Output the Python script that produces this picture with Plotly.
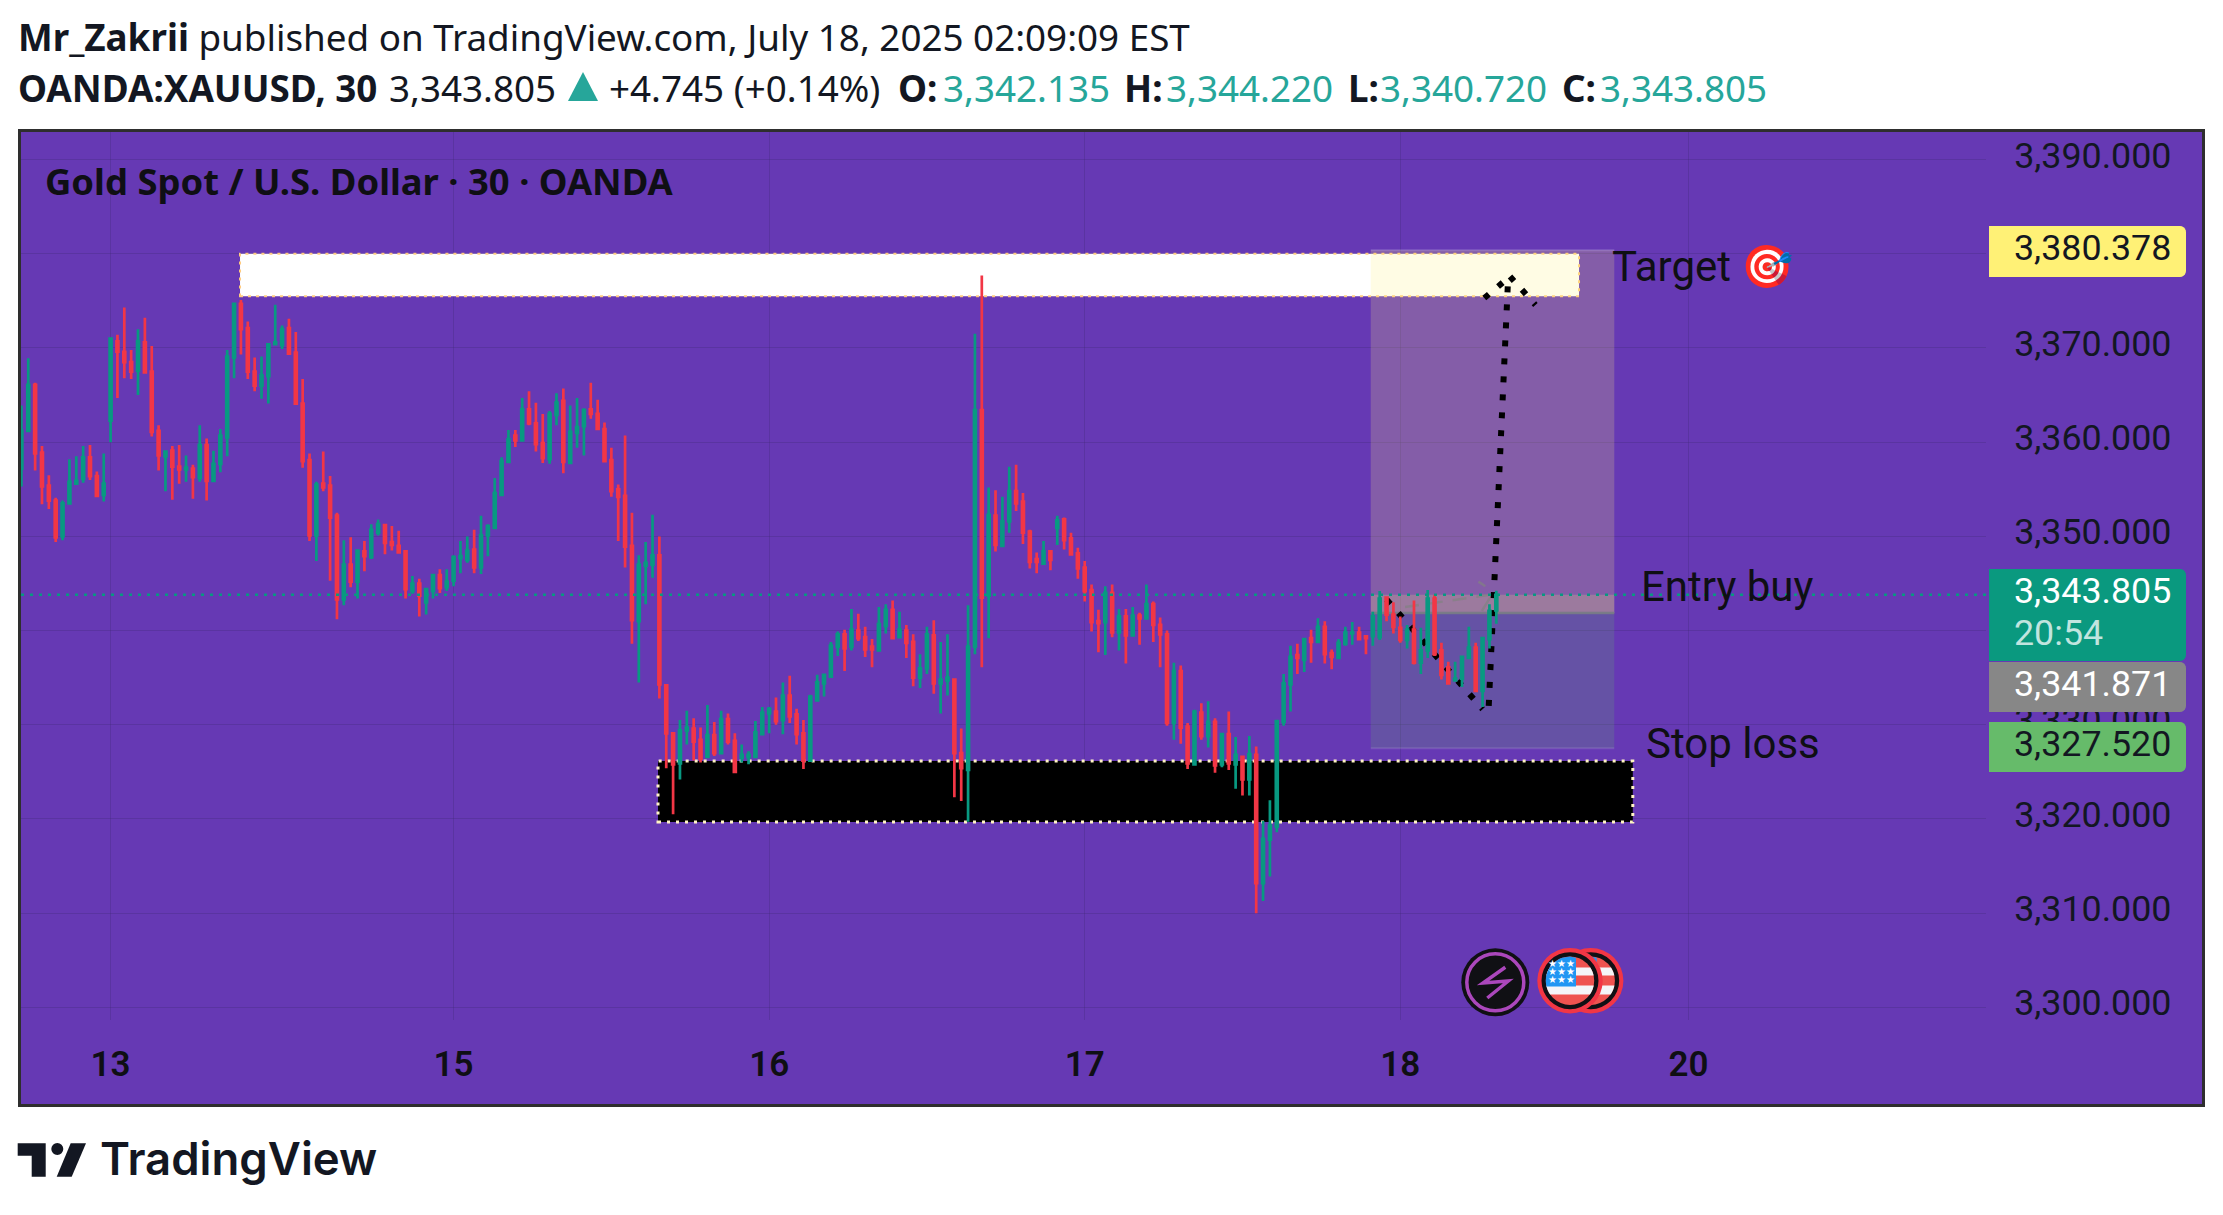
import numpy as np
import plotly.graph_objects as go

W, H = 2223, 1215

opens = [3357.2,3361.2,3366.1,3358.9,3355.4,3353.8,3350.0,3353.5,3355.6,3356.1,3358.4,3356.4,3354.4,3362.3,3370.7,3369.6,3368.5,3367.6,3370.6,3367.5,
3361.2,3358.5,3359.1,3357.4,3357.1,3357.2,3356.2,3359.7,3355.9,3357.7,3360.5,3369.0,3374.7,3372.1,3367.5,3366.0,3367.0,3370.4,3370.3,3372.1,
3369.5,3364.1,3358.1,3350.1,3355.6,3355.4,3352.2,3343.3,3347.0,3345.2,3348.4,3347.8,3350.4,3351.2,3349.4,3349.0,3348.4,3344.2,3345.0,3343.0,
3344.2,3345.9,3344.6,3345.3,3347.7,3347.5,3348.6,3346.7,3350.1,3350.9,3354.4,3357.9,3360.7,3360.2,3363.5,3362.0,3359.9,3358.2,3362.9,3364.4,
3357.8,3361.0,3361.7,3363.5,3363.0,3361.4,3358.1,3355.0,3354.3,3349.0,3341.0,3346.9,3347.0,
3348.0,3334.2,3329.1,3325.9,3329.4,3329.6,3328.4,3326.6,3328.9,3327.0,3330.6,3328.3,3326.5,3326.6,3326.6,3329.0,3331.2,3331.4,3330.5,3333.1,3331.1,3329.1,
3326.2,3332.6,3334.4,3335.1,3338.3,3339.6,3338.3,3340.0,3339.3,3338.3,3337.9,3340.5,3342.2,3339.3,3340.0,3338.8,3335.0,3336.0,3339.5,3334.4,3334.7,
3334.8,3327.0,3325.2,3338.3,3363.4,3343.7,3352.2,3349.0,3351.6,3354.8,3353.7,3350.5,3347.6,3347.1,3348.4,3350.9,3351.8,3349.8,3348.2,3346.7,3344.3,
3341.0,3340.9,3344.0,3339.8,3341.5,3339.5,3341.6,3341.3,3342.8,3340.6,3339.6,3330.2,3335.7,3329.8,3325.8,3331.3,3328.8,3330.3,3325.8,3329.0,3325.8,
3326.6,3324.2,3326.8,3313.2,3317.8,3319.2,3330.3,3334.3,3337.4,3336.9,3339.2,3338.8,3340.4,3337.6,3337.1,3338.6,
3339.7,3339.8,3339.4,3339.4,3339.3,3343.5,3341.7,3340.3,3339.0,3340.1,3336.6,3337.9,3343.4,3337.9,3336.1,3334.7,3334.9,3337.1,3338.2,3333.6,3339.1,3342.135]
highs = [3363.9,3368.9,3366.3,3359.6,3356.5,3354.1,3353.8,3358.2,3358.5,3359.6,3359.7,3356.9,3358.8,3371.0,3371.4,3374.3,3369.8,3372.0,3373.2,3370.2,
3361.8,3359.1,3359.6,3359.7,3358.6,3357.6,3361.8,3360.4,3359.1,3361.4,3369.8,3374.7,3375.1,3372.8,3369.0,3369.1,3370.4,3374.6,3372.4,3373.1,
3371.7,3366.7,3358.8,3355.8,3359.0,3356.4,3352.5,3349.6,3349.9,3348.6,3349.5,3351.3,3351.8,3351.3,3351.1,3350.6,3348.5,3345.8,3345.5,3344.4,
3346.0,3346.5,3346.5,3348.0,3349.5,3350.0,3350.7,3352.2,3351.3,3356.2,3358.4,3361.3,3361.3,3364.7,3365.4,3364.2,3363.0,3363.3,3365.2,3365.7,
3363.9,3364.7,3363.6,3366.3,3364.5,3362.1,3359.4,3355.5,3360.7,3352.5,3348.0,3349.4,3352.3,
3350.0,3334.2,3329.2,3330.5,3331.5,3330.7,3329.7,3332.1,3330.3,3331.5,3331.2,3329.1,3327.9,3327.2,3330.4,3331.9,3331.9,3332.9,3334.5,3335.2,3331.7,3330.5,
3333.2,3335.3,3335.3,3338.8,3339.9,3340.1,3342.3,3341.8,3340.4,3339.1,3342.5,3342.8,3343.2,3342.0,3340.6,3339.6,3337.5,3340.4,3341.1,3338.8,3339.6,
3334.9,3329.6,3342.7,3371.5,3377.7,3355.2,3354.9,3354.2,3357.4,3357.6,3354.6,3350.7,3348.3,3349.5,3348.5,3352.2,3352.0,3350.4,3348.8,3347.4,3344.9,
3342.2,3344.7,3344.9,3342.3,3342.3,3342.5,3341.9,3344.9,3343.1,3341.4,3340.0,3336.6,3336.3,3330.2,3331.6,3332.3,3332.5,3330.7,3329.0,3331.4,3328.7,
3326.6,3328.8,3327.7,3319.8,3322.0,3330.5,3335.4,3338.4,3338.6,3339.2,3340.1,3341.3,3341.0,3338.0,3339.1,3340.4,
3340.9,3340.4,3339.5,3342.0,3344.2,3343.6,3343.0,3341.5,3340.6,3343.2,3340.3,3344.3,3343.8,3338.7,3336.7,3336.7,3337.2,3340.4,3338.7,3339.2,3342.8,3344.22]
lows = [3355.3,3361.2,3357.0,3353.4,3352.9,3349.4,3349.6,3353.5,3355.5,3355.7,3356.0,3354.3,3353.7,3360.0,3364.7,3366.8,3366.7,3365.0,3367.3,3360.6,
3357.0,3354.8,3353.9,3355.6,3355.8,3354.0,3355.8,3353.8,3355.9,3356.8,3358.5,3366.8,3369.3,3366.7,3365.4,3364.6,3364.1,3370.3,3369.9,3369.3,
3364.0,3357.3,3349.5,3347.4,3354.8,3345.3,3341.2,3342.7,3344.6,3343.4,3346.3,3347.6,3350.1,3348.1,3348.5,3348.2,3343.4,3343.9,3341.5,3341.7,
3343.4,3344.0,3344.2,3344.7,3346.1,3347.2,3346.1,3346.0,3347.9,3350.9,3354.4,3357.8,3359.5,3360.2,3361.8,3359.0,3357.8,3357.7,3361.8,3356.7,
3357.8,3359.4,3358.6,3362.5,3361.3,3358.0,3354.2,3349.5,3346.7,3338.6,3334.5,3342.8,3345.6,
3332.8,3325.4,3320.5,3324.2,3327.9,3326.2,3326.0,3326.6,3326.7,3327.0,3327.9,3325.0,3326.0,3325.8,3326.6,3328.9,3329.1,3330.0,3329.0,3330.2,3327.9,3325.3,
3326.1,3332.6,3333.0,3335.1,3337.3,3335.7,3337.9,3338.9,3337.2,3336.1,3337.9,3339.7,3339.1,3339.3,3337.1,3334.1,3333.9,3335.4,3333.3,3331.2,3333.1,
3322.3,3321.9,3319.7,3337.5,3336.1,3339.2,3348.4,3348.9,3350.4,3352.7,3349.2,3346.6,3346.1,3347.1,3346.4,3349.1,3348.6,3348.0,3345.5,3343.1,3339.9,
3337.7,3337.4,3339.3,3337.9,3336.5,3339.5,3338.5,3341.3,3338.8,3336.1,3329.9,3328.4,3328.0,3325.3,3325.8,3328.4,3327.6,3324.9,3325.5,3325.2,3323.2,
3322.5,3322.5,3310.0,3311.3,3313.9,3318.6,3329.9,3331.4,3335.4,3335.6,3336.6,3338.8,3336.5,3335.9,3337.1,3338.4,
3338.5,3339.1,3337.5,3338.4,3339.0,3341.0,3339.7,3338.7,3338.1,3336.4,3335.4,3337.1,3337.3,3334.8,3334.4,3334.6,3334.0,3337.1,3333.6,3331.9,3338.1,3340.72]
closes = [3361.2,3366.1,3358.8,3355.3,3353.8,3349.9,3353.5,3355.8,3355.9,3358.4,3356.4,3354.3,3355.6,3371.0,3369.6,3368.5,3367.5,3370.7,3367.4,3361.1,
3358.6,3359.0,3357.4,3357.1,3357.3,3356.3,3359.7,3355.9,3357.7,3360.7,3369.1,3374.7,3372.0,3367.5,3366.0,3367.1,3370.4,3370.6,3372.0,3369.4,
3364.1,3358.0,3350.1,3355.5,3355.2,3352.0,3343.3,3347.0,3345.2,3348.5,3347.9,3350.7,3351.3,3349.3,3349.1,3348.3,3344.4,3345.0,3343.7,3344.4,
3345.9,3344.5,3345.2,3347.8,3347.9,3348.5,3346.7,3350.1,3351.1,3354.6,3358.0,3360.3,3360.2,3363.5,3362.0,3359.8,3358.3,3363.0,3364.2,3357.9,
3361.1,3361.6,3363.4,3363.0,3361.4,3358.0,3354.8,3354.2,3348.9,3341.1,3347.0,3347.2,3348.0,
3334.3,3329.1,3325.8,3329.4,3329.7,3328.2,3326.4,3328.9,3327.0,3330.6,3328.2,3325.0,3326.8,3326.8,3329.2,3331.3,3331.7,3330.4,3333.1,3330.9,3329.0,3326.2,
3333.0,3334.5,3335.3,3338.4,3339.6,3338.1,3340.1,3339.2,3338.0,3338.0,3340.7,3342.2,3339.2,3340.1,3338.7,3335.0,3336.0,3339.6,3334.4,3334.8,3335.0,
3327.0,3325.4,3338.3,3363.4,3343.5,3352.3,3349.1,3351.6,3354.8,3353.5,3350.4,3347.3,3347.3,3348.4,3347.5,3351.7,3349.6,3348.1,3346.6,3344.2,3340.9,
3340.8,3344.0,3339.8,3341.5,3339.5,3341.6,3341.3,3342.8,3340.6,3339.6,3330.2,3335.7,3329.7,3325.9,3331.4,3328.8,3330.3,3325.7,3329.0,3325.9,3326.8,
3324.2,3326.9,3313.2,3317.9,3319.3,3330.4,3334.4,3337.2,3337.1,3339.1,3338.8,3340.4,3337.5,3337.2,3338.7,3339.8,
3339.8,3339.1,3339.2,3341.5,3343.4,3341.7,3340.4,3339.0,3340.1,3336.6,3337.9,3343.4,3337.5,3335.3,3334.4,3334.9,3337.2,3338.2,3333.6,3339.2,3342.1,3343.805]

price_ticks = [3300, 3310, 3320, 3330, 3340, 3350, 3360, 3370, 3380, 3390]
date_ticks = [13, 63, 109, 155, 201, 243]
date_labels = ["13", "15", "16", "17", "18", "20"]

last_price = 3343.805
entry_price = 3341.871
target_price = 3380.378
stop_price = 3327.52
supply_zone = (31.87, 227.06, 3375.5, 3380.0)
demand_zone = (92.8, 234.9, 3319.67, 3326.15)
position_x = (196.7, 232.2)
path_down = ([199.0, 213.0], [3343.3, 3331.66])
path_up = ([213.9, 216.7], [3332.0, 3377.0])
arrow_head = ([213.25, 217.0, 220.7], [3375.3, 3377.6, 3374.57])

BAR = 6.86
X0 = 21.4
PANE = (21, 132, 1986, 1020)
UP, DOWN = "#089981", "#f23645"
INK = "#131722"
PURPLE = "#6639b4"
TV_TEAL = "#26a69a"
Y_FIT = 1.0033


def fx(x):
    return x / W


def fy(y):
    return 1 - y * Y_FIT / H


def poly(points):
    return "M" + " L".join(f"{fx(a):.5f},{fy(b):.5f}" for a, b in points) + " Z"


def disc(cx, cy, r, fill, line=None, lw=0):
    return dict(type="circle", xref="paper", yref="paper", x0=fx(cx - r), x1=fx(cx + r),
                y0=fy(cy + r), y1=fy(cy - r), fillcolor=fill, layer="above",
                line=dict(color=line or "rgba(0,0,0,0)", width=lw))


def band(cx, cy, r, y1, y2, fill, xmin=None, xmax=None):
    ys = np.linspace(max(y1, cy - r), min(y2, cy + r), 24)
    half = np.sqrt(np.maximum(r * r - (ys - cy) ** 2, 0))
    right = cx + half
    left = cx - half
    if xmin is not None:
        left = np.maximum(left, xmin)
    if xmax is not None:
        right = np.minimum(right, xmax)
    pts = list(zip(right, ys)) + list(zip(left[::-1], ys[::-1]))
    return dict(type="path", xref="paper", yref="paper", path=poly(pts), fillcolor=fill,
                layer="above", line=dict(width=0))


def badge(x0, y0, x1, y1, fill):
    r = 6
    a = np.linspace(0, np.pi / 2, 6)
    pts = [(x0, y0)]
    pts += [(x1 - r + r * np.sin(t), y0 + r - r * np.cos(t)) for t in a]
    pts += [(x1 - r + r * np.cos(t), y1 - r + r * np.sin(t)) for t in a]
    pts += [(x0, y1)]
    return dict(type="path", xref="paper", yref="paper", path=poly(pts), fillcolor=fill,
                layer="above", line=dict(width=0))


def label(text, x, y, size, color=INK, family="Noto Sans", anchor="left", weight=None):
    font = dict(family=family, size=size, color=color)
    if weight:
        font["weight"] = weight
    return dict(text=text, x=fx(x), y=fy(y), xref="paper", yref="paper", showarrow=False,
                xanchor=anchor, yanchor="middle", font=font, borderpad=0, borderwidth=0)


def data_rect(x0, x1, y0, y1, fill, line=None):
    return dict(type="rect", xref="x", yref="y", x0=x0, x1=x1, y0=y0, y1=y1, fillcolor=fill,
                layer="between", line=line or dict(width=0))


def data_line(xs, ys, color, width, dash=None, layer="between"):
    return dict(type="line", xref="x", yref="y", x0=xs[0], x1=xs[1], y0=ys[0], y1=ys[1],
                layer=layer, line=dict(color=color, width=width, dash=dash))


def px_to_price(y):
    return 3350 - (y - 536.4) / 9.42


bars = list(range(len(closes)))
fig = go.Figure(go.Candlestick(
    x=bars, open=opens, high=highs, low=lows, close=closes, whiskerwidth=0, hoverinfo="skip",
    increasing=dict(line=dict(color=UP, width=2.7), fillcolor=UP),
    decreasing=dict(line=dict(color=DOWN, width=2.7), fillcolor=DOWN),
))
# carries the price labels, which sit a little above their grid lines
fig.add_trace(go.Scatter(x=[bars[0]], y=[last_price], yaxis="y2", mode="none", hoverinfo="skip", showlegend=False))

DOTS = "6px,12px"
x_a, x_b = position_x
shapes = [
    dict(type="rect", xref="paper", yref="paper", x0=fx(18), x1=fx(2205), y0=fy(1107), y1=fy(129),
         fillcolor=PURPLE, layer="below", line=dict(width=0)),
    data_rect(supply_zone[0], supply_zone[1], supply_zone[2], supply_zone[3], "#ffffff",
              dict(color="#ffcc80", width=2, dash="3px,5px")),
    data_rect(demand_zone[0], demand_zone[1], demand_zone[2], demand_zone[3], "#000000",
              dict(color="#fff3c4", width=3, dash="3px,6px")),
    data_rect(x_a, x_b, entry_price, target_price, "rgba(255,241,118,0.2)"),
    data_rect(x_a, x_b, stop_price, entry_price, "rgba(102,187,106,0.2)"),
    data_rect(x_a, x_b, entry_price, last_price, "rgba(255,241,118,0.2)"),
    data_line([x_a, x_b], [target_price, target_price], "rgba(255,255,255,0.18)", 2),
    data_line([x_a, x_b], [stop_price, stop_price], "rgba(255,255,255,0.12)", 2),
    data_line([x_a, x_b], [entry_price, entry_price], "rgba(120,123,134,0.95)", 2.5),
    data_line(path_down[0], path_down[1], "#000000", 6, DOTS),
    data_line(path_up[0], path_up[1], "#000000", 6, DOTS),
    data_line(arrow_head[0][:2], arrow_head[1][:2], "#000000", 6, DOTS),
    data_line(arrow_head[0][1:], arrow_head[1][1:], "#000000", 6, DOTS),
    data_line([201.7, 214.1], [3342.5, 3343.8], "rgba(130,130,130,0.7)", 2.5, "14px,10px"),
    data_line([212.4, 213.4], [3345.2, 3344.7], "rgba(130,130,130,0.7)", 2.5),
    data_line([212.9, 214.1], [3342.1, 3343.5], "rgba(130,130,130,0.7)", 2.5),
    dict(type="line", xref="paper", yref="y", x0=fx(PANE[0]), x1=fx(PANE[2]), y0=last_price, y1=last_price,
         layer="above", line=dict(color=UP, width=2.4, dash="3px,6px")),
    badge(1989, 226, 2186, 277, "#fff176"),
    badge(1989, 569, 2186, 661, "#0a997f"),
    badge(1989, 662, 2186, 712, "#878787"),
    badge(1989, 722, 2186, 772, "#66bb6a"),
    dict(type="rect", xref="paper", yref="paper", x0=fx(19.5), x1=fx(2203.5), y0=fy(1105.5), y1=fy(130.5),
         fillcolor="rgba(0,0,0,0)", layer="above", line=dict(color="#2e2e2e", width=3)),
    dict(type="path", xref="paper", yref="paper", layer="above", fillcolor="#26a69a", line=dict(width=0),
         path=poly([(568, 101), (583, 72), (598, 101)])),
]

# event icons under the pane
shapes += [disc(1495.3, 982.3, 34, "#101014"), disc(1495.3, 982.3, 28.5, "#101014", "#ab47bc", 3.5)]
bolt = [(1505.3, 967.3), (1483, 983), (1508.3, 981), (1487.3, 998)]
shapes.append(dict(type="path", xref="paper", yref="paper", layer="above", fillcolor="rgba(0,0,0,0)",
                   line=dict(color="#ab47bc", width=3.5),
                   path="M" + " L".join(f"{fx(a):.5f},{fy(b):.5f}" for a, b in bolt)))
for cx in (1590.7, 1570.0):
    cy = 980.7
    shapes += [disc(cx, cy, 32.7, "#f23645"), disc(cx, cy, 28.5, "#101014"), disc(cx, cy, 24.2, "#ef5350")]
    shapes.append(band(cx, cy, 24.2, 967.5, 975.5, "#f5f5f8"))
    shapes.append(band(cx, cy, 24.2, 985.5, 994.5, "#f5f5f8"))
    shapes.append(band(cx, cy, 24.2, 955, 986.5, "#2196f3", xmax=cx + 6))

# logo
shapes.append(dict(type="path", xref="paper", yref="paper", fillcolor=INK, line=dict(width=0), layer="above",
                   path=poly([(17.7, 1143.3), (45.7, 1143.3), (45.7, 1176.7), (31.7, 1176.7), (31.7, 1155.7), (17.7, 1155.7)])))
shapes.append(dict(type="path", xref="paper", yref="paper", fillcolor=INK, line=dict(width=0), layer="above",
                   path=poly([(86, 1143.3), (71.7, 1176.7), (56.7, 1176.7), (70.7, 1143.3)])))
shapes.append(disc(57.3, 1149, 6, INK))

TEAL = TV_TEAL
HEAD = 36.8
annotations = [
    label("<b>Mr_Zakrii</b> published on TradingView.com, July 18, 2025 02:09:09 EST", 18, 37, HEAD),
    label("<b>OANDA:XAUUSD, 30</b>", 18, 88, HEAD),
    label("3,343.805", 389, 88, HEAD),
    label("+4.745 (+0.14%)", 609, 88, HEAD),
    label("<b>O:</b>", 898, 88, HEAD),
    label("3,342.135", 943, 88, HEAD, TEAL),
    label("<b>H:</b>", 1124, 88, HEAD),
    label("3,344.220", 1166, 88, HEAD, TEAL),
    label("<b>L:</b>", 1348, 88, HEAD),
    label("3,340.720", 1380, 88, HEAD, TEAL),
    label("<b>C:</b>", 1562, 88, HEAD),
    label("3,343.805", 1600, 88, HEAD, TEAL),
    label("<b>Gold Spot / U.S. Dollar · 30 · OANDA</b>", 45, 181, 36.4, "#0f0f14"),
    label("Target 🎯", 1612, 267, 42, "#0f0f14", "Roboto"),
    label("Entry buy", 1641, 587, 42, "#0f0f14", "Roboto"),
    label("Stop loss", 1646, 744, 42, "#0f0f14", "Roboto"),
    label("3,380.378", 2014, 248, 35.8, INK, "Roboto"),
    label("3,343.805", 2014, 591, 35.8, "#ffffff", "Roboto"),
    label("20:54", 2014, 633, 35.8, "rgba(255,255,255,0.75)", "Roboto"),
    label("3,341.871", 2014, 684, 35.8, "#ffffff", "Roboto"),
    label("3,327.520", 2014, 744, 35.8, INK, "Roboto"),
    label("★★★", 1561, 963.5, 10, "#ffffff", "DejaVu Sans", "center"),
    label("★★★", 1561, 971.7, 10, "#ffffff", "DejaVu Sans", "center"),
    label("★★★", 1561, 980, 10, "#ffffff", "DejaVu Sans", "center"),
    label("TradingView", 100, 1159, 45.5, INK, "Inter", weight=600),
]

GRID = "rgba(60,40,110,0.28)"
LABEL_LIFT = 4.5 / 9.42
y_lo, y_hi = px_to_price(PANE[3]), px_to_price(PANE[1])
fig.update_layout(
    width=W, height=H, margin=dict(l=0, r=0, t=0, b=0), autosize=False, showlegend=False,
    paper_bgcolor="#ffffff", plot_bgcolor="rgba(0,0,0,0)", boxgap=0.6,
    xaxis=dict(domain=[fx(PANE[0]), fx(PANE[2])], range=[(PANE[0] - X0) / BAR, (PANE[2] - X0) / BAR],
               rangeslider=dict(visible=False), tickmode="array", tickvals=date_ticks, ticktext=date_labels,
               showgrid=True, gridcolor=GRID, gridwidth=1.4, zeroline=False, showline=False,
               ticks="outside", ticklen=13, tickcolor="rgba(0,0,0,0)",
               tickfont=dict(family="Roboto", size=35, color="#0f0f14", weight=600)),
    yaxis=dict(domain=[fy(PANE[3]), fy(PANE[1])], range=[y_lo, y_hi],
               tickmode="array", tickvals=price_ticks, showticklabels=False,
               showgrid=True, gridcolor=GRID, gridwidth=1.4, zeroline=False, showline=False, ticks=""),
    yaxis2=dict(overlaying="y", side="right", anchor="x", range=[y_lo - LABEL_LIFT, y_hi - LABEL_LIFT],
                tickmode="array", tickvals=price_ticks, ticktext=[f"{v:,.3f}" for v in price_ticks],
                showgrid=False, zeroline=False, showline=False,
                ticks="outside", ticklen=20, tickcolor="rgba(0,0,0,0)",
                tickfont=dict(family="Roboto", size=35.8, color=INK)),
    shapes=shapes, annotations=annotations,
)

fig.write_html(
    "out.html",
    config={"displayModeBar": False},
    post_script=(
        "var gd=document.querySelector('.plotly-graph-div');"
        "gd.style.position='fixed';gd.style.left='0';gd.style.top='0';"
        "document.documentElement.style.overflow='hidden';document.documentElement.style.height='100%';"
        "document.body.style.margin='0';document.body.style.overflow='hidden';document.body.style.height='100%';"
    ),
)
